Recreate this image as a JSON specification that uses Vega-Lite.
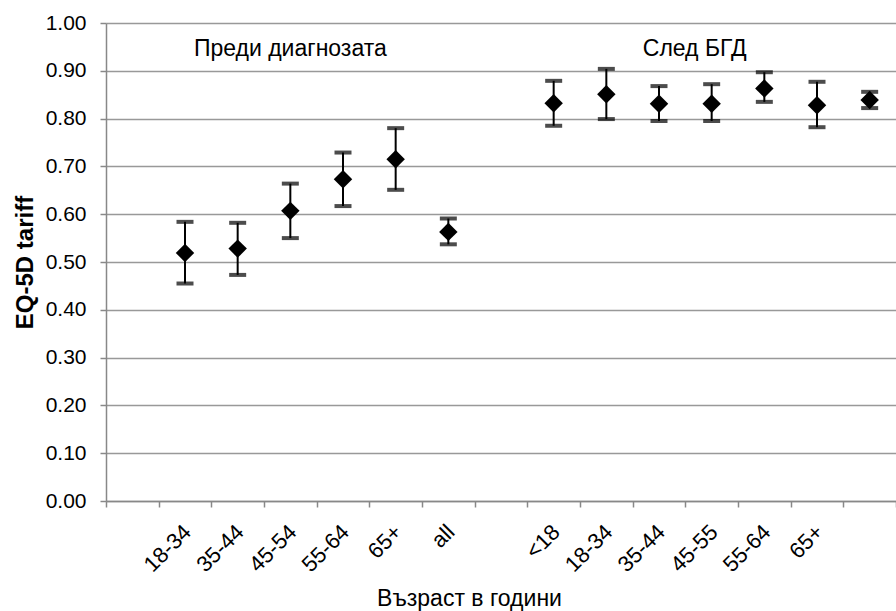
{
  "$schema": "https://vega.github.io/schema/vega-lite/v6.json",
  "autosize": "none",
  "width": 790,
  "height": 478,
  "padding": {"left": 106, "top": 23, "right": 0, "bottom": 110},
  "background": "white",
  "config": {
    "view": {"stroke": null},
    "font": "Liberation Sans"
  },
  "datasets": {
    "points": [
      {"key": "a|18-34", "value": 0.519, "lo": 0.455, "hi": 0.584},
      {"key": "a|35-44", "value": 0.528, "lo": 0.473, "hi": 0.582},
      {"key": "a|45-54", "value": 0.607, "lo": 0.550, "hi": 0.664},
      {"key": "a|55-64", "value": 0.673, "lo": 0.617, "hi": 0.729},
      {"key": "a|65+", "value": 0.715, "lo": 0.651, "hi": 0.780},
      {"key": "a|all", "value": 0.563, "lo": 0.537, "hi": 0.591},
      {"key": "b|<18", "value": 0.832, "lo": 0.785, "hi": 0.879},
      {"key": "b|18-34", "value": 0.851, "lo": 0.799, "hi": 0.904},
      {"key": "b|35-44", "value": 0.831, "lo": 0.795, "hi": 0.868},
      {"key": "b|45-55", "value": 0.831, "lo": 0.795, "hi": 0.872},
      {"key": "b|55-64", "value": 0.863, "lo": 0.835, "hi": 0.897},
      {"key": "b|65+", "value": 0.828, "lo": 0.782, "hi": 0.877},
      {"key": "b|all", "value": 0.839, "lo": 0.822, "hi": 0.856}
    ],
    "notes": [
      {"key": "a|45-54", "y": 0.931, "text": "Преди диагнозата"},
      {"key": "b|45-55", "y": 0.931, "text": "След БГД"}
    ]
  },
  "encoding": {
    "x": {
      "field": "key",
      "type": "nominal",
      "sort": null,
      "scale": {
        "type": "band",
        "paddingInner": 0,
        "paddingOuter": 0,
        "domain": ["e|1", "a|18-34", "a|35-44", "a|45-54", "a|55-64", "a|65+", "a|all", "e|2", "b|<18", "b|18-34", "b|35-44", "b|45-55", "b|55-64", "b|65+", "b|all"]
      },
      "axis": {
        "title": "Възраст в години",
        "titleFontSize": 23,
        "titleFontWeight": "normal",
        "titleColor": "black",
        "titleX": 363,
        "titleY": 86,
        "labelExpr": "(datum.value == 'b|all' || datum.value == 'e|1' || datum.value == 'e|2') ? '' : split(datum.value, '|')[1]",
        "labelAngle": -45,
        "labelFontSize": 22,
        "labelColor": "black",
        "labelPadding": 14,
        "labelOffset": -5,
        "tickBand": "extent",
        "tickSize": 6,
        "tickColor": "#888888",
        "tickWidth": 1.5,
        "domainColor": "#888888",
        "domainWidth": 1.5,
        "grid": false
      }
    },
    "y": {
      "type": "quantitative",
      "scale": {"domain": [0, 1], "nice": false, "zero": true},
      "axis": {
        "title": "EQ-5D tariff",
        "titleFontSize": 24,
        "titleFontWeight": "bold",
        "titleColor": "black",
        "titlePadding": 8,
        "values": [0, 0.1, 0.2, 0.3, 0.4, 0.5, 0.6, 0.7, 0.8, 0.9, 1.0],
        "format": ".2f",
        "labelFontSize": 21,
        "labelColor": "black",
        "labelPadding": 14,
        "tickSize": 6,
        "tickColor": "#888888",
        "tickWidth": 1.5,
        "domainColor": "#888888",
        "domainWidth": 1.5,
        "grid": true,
        "gridColor": "#999999",
        "gridWidth": 1.5
      }
    }
  },
  "layer": [
    {
      "data": {"name": "points"},
      "mark": {
        "type": "errorbar",
        "ticks": {"size": 17, "thickness": 4, "color": "black"},
        "rule": {"strokeWidth": 2, "color": "black"}
      },
      "encoding": {
        "y": {"field": "lo", "type": "quantitative"},
        "y2": {"field": "hi"}
      }
    },
    {
      "data": {"name": "points"},
      "mark": {"type": "point", "shape": "diamond", "filled": true, "size": 340, "color": "black", "opacity": 1},
      "encoding": {
        "y": {"field": "value", "type": "quantitative"}
      }
    },
    {
      "data": {"name": "notes"},
      "mark": {"type": "text", "fontSize": 23, "color": "black", "baseline": "alphabetic", "align": "center", "dx": {"expr": "datum.key == 'b|45-55' ? -17 : 0"}},
      "encoding": {
        "y": {"field": "y", "type": "quantitative"},
        "text": {"field": "text"}
      }
    }
  ]
}
